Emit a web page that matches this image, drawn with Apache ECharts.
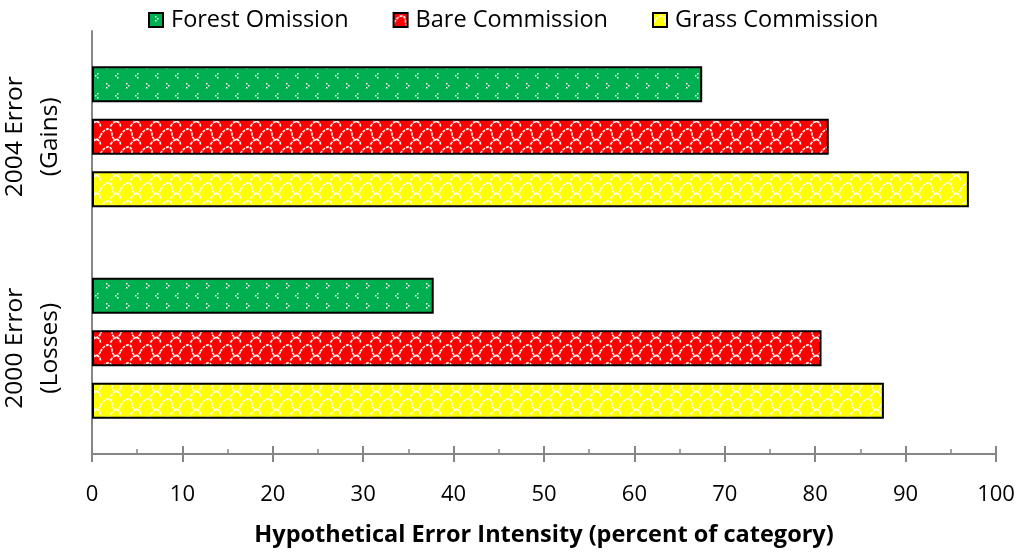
<!DOCTYPE html>
<html><head><meta charset="utf-8">
<script src="https://cdn.jsdelivr.net/npm/echarts@6/dist/echarts.min.js"></script>
<style>html,body{margin:0;padding:0;background:#fff}#c{width:1024px;height:552px}</style>
</head><body><div id="c"></div>
<script>
const categories = ["2004 Error\n(Gains)", "2000 Error\n(Losses)"];
const seriesNames = ["Forest Omission", "Bare Commission", "Grass Commission"];
const forestOmission = [67.5, 37.8];
const bareCommission = [81.5, 80.7];
const grassCommission = [97.0, 87.6];
const xTicks = [0, 10, 20, 30, 40, 50, 60, 70, 80, 90, 100];

function dotPattern(bg) {
  const c = document.createElement('canvas');
  c.width = 20; c.height = 20;
  const g = c.getContext('2d');
  g.fillStyle = bg; g.fillRect(0, 0, 20, 20);
  g.fillStyle = '#fff';
  const chev = (x, y, dir) => {
    g.fillRect(x, y, 1.5, 1.5);
    g.fillRect(x + dir * 2, y + 2, 1.5, 1.5);
    g.fillRect(x, y + 4, 1.5, 1.5);
  };
  chev(6, 3, 1);
  chev(17, 13, -1);
  return c;
}
function wavePattern(bg) {
  const c = document.createElement('canvas');
  c.width = 20; c.height = 18;
  const g = c.getContext('2d');
  g.fillStyle = bg; g.fillRect(0, 0, 20, 18);
  g.strokeStyle = '#fff';
  g.lineWidth = 1.6;
  g.setLineDash([3, 1]);
  for (let oy = -18; oy <= 18; oy += 18) {
    for (let ox = -20; ox <= 20; ox += 20) {
      g.beginPath();
      g.moveTo(ox + 0.5, oy + 9.5);
      g.bezierCurveTo(ox + 5, oy + 1, ox + 12, oy + 1, ox + 12, oy + 8);
      g.bezierCurveTo(ox + 12, oy + 14, ox + 18, oy + 16, ox + 20.5, oy + 9.5);
      g.stroke();
      g.beginPath();
      g.moveTo(ox + 10.5, oy + 18.5);
      g.bezierCurveTo(ox + 14, oy + 12, ox + 20, oy + 12, ox + 20.5, oy + 18.5);
      g.stroke();
    }
  }
  return c;
}
const fills = [
  { image: dotPattern('#00b050'), repeat: 'repeat' },
  { image: wavePattern('#ff0000'), repeat: 'repeat' },
  { image: wavePattern('#ffff00'), repeat: 'repeat' }
];
const dataSets = [forestOmission, bareCommission, grassCommission];
const FONT = '"Open Sans", Lato, sans-serif';
const axisColor = '#868686';

const chart = echarts.init(document.getElementById('c'), null, { renderer: 'canvas' });
chart.setOption({
  animation: false,
  backgroundColor: '#fff',
  textStyle: { fontFamily: FONT },
  legend: {
    top: 3, left: 143,
    icon: 'rect',
    itemWidth: 14, itemHeight: 14, itemGap: 44,
    textStyle: { fontSize: 23.5, color: '#000', fontFamily: FONT, padding: [0, 0, 0, 3] },
    data: seriesNames
  },
  grid: { left: 92, right: 28, top: 31, bottom: 98, containLabel: false, outerBoundsMode: 'none' },
  xAxis: [{
    type: 'value', min: 0, max: 100, interval: 10,
    axisLine: { show: true, lineStyle: { color: axisColor, width: 2 } },
    axisTick: { show: true, length: 8, lineStyle: { color: axisColor, width: 2 } },
    splitLine: { show: false },
    axisLabel: { fontSize: 22, color: '#000', margin: 30, fontFamily: FONT,
      formatter: v => xTicks.includes(v) ? String(v) : '' },
    name: 'Hypothetical Error Intensity (percent of category)',
    nameLocation: 'middle', nameGap: 69,
    nameTextStyle: { fontSize: 23.5, fontWeight: 'bold', color: '#000', fontFamily: FONT }
  }, {
    type: 'value', min: 0, max: 100, interval: 10, position: 'bottom',
    axisLine: { show: false },
    axisTick: { show: true, inside: true, length: 8, lineStyle: { color: axisColor, width: 2 } },
    minorTick: { show: true, splitNumber: 2, length: 5, lineStyle: { color: axisColor, width: 1.5 } },
    splitLine: { show: false },
    axisLabel: { show: false }
  }],
  yAxis: {
    type: 'category', data: categories, inverse: true,
    axisLine: { show: true, lineStyle: { color: axisColor, width: 2 } },
    axisTick: { show: false },
    axisLabel: { rotate: 90, fontSize: 24.5, color: '#000', margin: 59, lineHeight: 35,
      fontFamily: FONT, align: 'center', verticalAlign: 'middle' }
  },
  series: seriesNames.map((n, i) => ({
    name: n, type: 'bar', data: dataSets[i], xAxisIndex: 0,
    barWidth: 36, barGap: '46%', barCategoryGap: '32%',
    itemStyle: { color: fills[i], borderColor: '#000', borderWidth: 2 }
  }))
});
</script></body></html>
